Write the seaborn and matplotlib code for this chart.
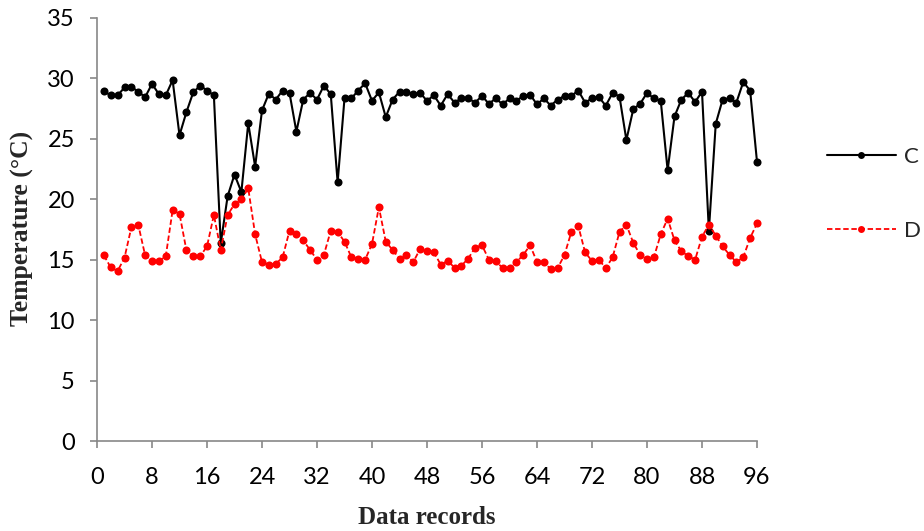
import numpy as np
import pandas as pd
import matplotlib
matplotlib.use("Agg")
import matplotlib.pyplot as plt
import seaborn as sns

records = list(range(1, 97))
series_c = [28.95, 28.6, 28.6, 29.25, 29.3, 28.9, 28.45, 29.55, 28.7, 28.6,
            29.85, 25.3, 27.2, 28.85, 29.4, 29.0, 28.6, 16.35, 20.25, 22.05,
            20.6, 26.3, 22.7, 27.35, 28.75, 28.25, 29.0, 28.8, 25.6, 28.25,
            28.8, 28.25, 29.4, 28.7, 21.4, 28.35, 28.35, 29.0, 29.6, 28.15,
            28.85, 26.8, 28.25, 28.9, 28.9, 28.7, 28.8, 28.15, 28.6, 27.75,
            28.7, 28.0, 28.35, 28.35, 28.0, 28.55, 27.9, 28.35, 27.85, 28.35,
            28.15, 28.55, 28.65, 27.85, 28.35, 27.75, 28.25, 28.55, 28.55, 29.0,
            28.0, 28.35, 28.45, 27.75, 28.8, 28.5, 24.9, 27.45, 27.9, 28.8,
            28.35, 28.15, 22.4, 26.85, 28.25, 28.8, 28.05, 28.9, 17.4, 26.25,
            28.25, 28.35, 28.0, 29.7, 29.0, 23.1]
series_d = [15.36, 14.36, 14.06, 15.17, 17.68, 17.9, 15.36, 14.9, 14.9, 15.28,
            19.1, 18.8, 15.8, 15.28, 15.28, 16.1, 18.7, 15.8, 18.7, 19.6,
            20.0, 20.9, 17.1, 14.8, 14.6, 14.65, 15.2, 17.4, 17.1, 16.6,
            15.8, 15.0, 15.4, 17.4, 17.3, 16.5, 15.2, 15.1, 15.0, 16.3,
            19.35, 16.5, 15.8, 15.1, 15.4, 14.8, 15.9, 15.7, 15.6, 14.6,
            14.9, 14.35, 14.5, 15.1, 16.0, 16.2, 15.0, 14.9, 14.3, 14.35,
            14.8, 15.4, 16.2, 14.8, 14.8, 14.2, 14.3, 15.4, 17.3, 17.8,
            15.6, 14.9, 15.0, 14.3, 15.2, 17.3, 17.9, 16.4, 15.4, 15.1,
            15.2, 17.1, 18.4, 16.6, 15.7, 15.3, 15.0, 16.9, 17.9, 17.0,
            16.1, 15.4, 14.8, 15.2, 16.8, 18.0]
series_names = ["C", "D"]
x_ticks = list(range(0, 97, 8))
y_ticks = list(range(0, 36, 5))

sns.set_style("white")
plt.rcParams['font.family'] = ['Lato', 'DejaVu Sans']

fig = plt.figure(figsize=(9.24, 5.31), dpi=100)
ax = fig.add_axes([97/924, 1 - 441/531, (757 - 97)/924, (441 - 18)/531])

df_c = pd.DataFrame({"x": records, "y": series_c})
df_d = pd.DataFrame({"x": records, "y": series_d})

sns.lineplot(data=df_c, x="x", y="y", ax=ax, color="black", linewidth=1.5,
             marker="o", markersize=5.8, markeredgewidth=0, label=series_names[0],
             clip_on=False)
sns.lineplot(data=df_d, x="x", y="y", ax=ax, color="#ff0000", linewidth=1.3,
             linestyle=(0, (3, 1.5)), marker="o", markersize=5.8,
             markeredgewidth=0, label=series_names[1], clip_on=False)

ax.set_xlim(0, 96)
ax.set_ylim(0, 35)
ax.set_xticks(x_ticks)
ax.set_yticks(y_ticks)
ax.tick_params(axis="both", labelsize=17, length=5, width=1.2, direction="out",
               colors="#888888", labelcolor="black")
ax.tick_params(axis="x", pad=14)
ax.tick_params(axis="y", pad=11)
ax.xaxis.set_ticks_position("bottom")
ax.yaxis.set_ticks_position("left")
for s in ["top", "right"]:
    ax.spines[s].set_visible(False)
for s in ["left", "bottom"]:
    ax.spines[s].set_color("#888888")
    ax.spines[s].set_linewidth(1.2)
ax.grid(False)
ax.set_xlabel("")
ax.set_ylabel("")

fig.text(427/924, 1 - 517/531, "Data records", fontsize=18, fontweight="bold",
         family="Liberation Serif", ha="center", va="center")
fig.text(22/924, 1 - 228/531, "Temperature (°C)", fontsize=18.5, fontweight="bold",
         family="Liberation Serif", ha="center", va="center", rotation=90)

handles, labels = ax.get_legend_handles_labels()
leg = ax.legend(handles, labels, loc="center left",
                bbox_to_anchor=(827/924, 1 - 194/531), bbox_transform=fig.transFigure,
                frameon=False, fontsize=16, handlelength=3.1, labelspacing=2.45,
                handletextpad=0.36, borderpad=0, borderaxespad=0)
for h in leg.legend_handles:
    h.set_markersize(5)

fig.savefig("out.png", dpi=100)
